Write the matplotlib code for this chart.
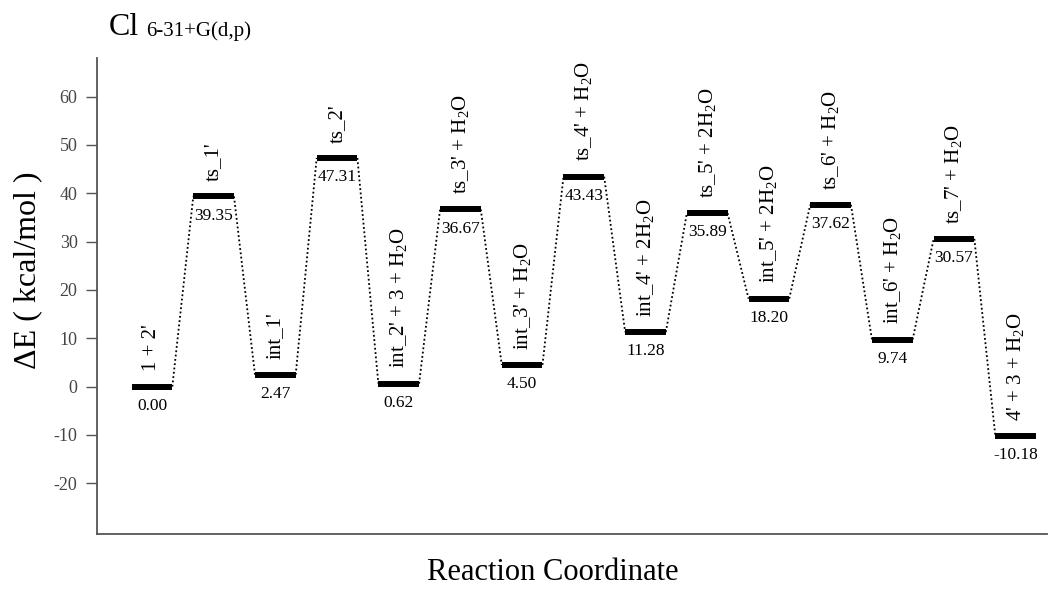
import matplotlib
matplotlib.use("Agg")
import matplotlib.pyplot as plt

# ---- data ----
species = [
    "1 + 2'",
    "ts_1'",
    "int_1'",
    "ts_2'",
    "int_2' + 3 + H$_2$O",
    "ts_3' + H$_2$O",
    "int_3' + H$_2$O",
    "ts_4' + H$_2$O",
    "int_4' + 2H$_2$O",
    "ts_5' + 2H$_2$O",
    "int_5' + 2H$_2$O",
    "ts_6' + H$_2$O",
    "int_6' + H$_2$O",
    "ts_7' + H$_2$O",
    "4' + 3 + H$_2$O",
]
energies = [0.00, 39.35, 2.47, 47.31, 0.62, 36.67, 4.50, 43.43,
            11.28, 35.89, 18.20, 37.62, 9.74, 30.57, -10.18]
yticks = [-20, -10, 0, 10, 20, 30, 40, 50, 60]

# ---- style ----
plt.rcParams['font.family'] = ['Liberation Serif', 'DejaVu Serif']
plt.rcParams['mathtext.fontset'] = 'custom'
plt.rcParams['mathtext.rm'] = 'Liberation Serif'
plt.rcParams['mathtext.it'] = 'Liberation Serif:italic'
plt.rcParams['mathtext.bf'] = 'Liberation Serif:bold'

fig = plt.figure(figsize=(10.48, 5.92), dpi=100)
ax = fig.add_axes([0.0926, 0.098, 0.906, 0.804])

half = 0.33
n = len(energies)
for i, e in enumerate(energies):
    ax.plot([i - half, i + half], [e, e], color='black', lw=4.3,
            solid_capstyle='butt')
    ax.annotate(species[i], (i, e), xytext=(0, 11), textcoords='offset points',
                rotation=90, ha='center', va='bottom', fontsize=15)
    ax.annotate(f"{e:.2f}", (i, e), xytext=(0, -8), textcoords='offset points',
                ha='center', va='top', fontsize=12.5)

for i in range(n - 1):
    ax.plot([i + half, i + 1 - half], [energies[i], energies[i + 1]],
            color='black', lw=1.3, ls=(0, (1, 1.4)))

ax.set_xlim(-0.89, 14.5)
ax.set_ylim(-30.5, 68)
ax.set_yticks(yticks)
ax.set_yticklabels([str(t) for t in yticks])
ax.set_xticks([])
for s in ['top', 'right']:
    ax.spines[s].set_visible(False)
for s in ['left', 'bottom']:
    ax.spines[s].set_color('#555555')
    ax.spines[s].set_linewidth(1.3)
ax.tick_params(axis='y', direction='out', length=8, width=1, color='#555555',
               labelsize=13, labelcolor='#444444', pad=6)

fig.text(28 / 1048, 1 - 270 / 592, "ΔE ( kcal/mol )", rotation=90,
         ha='center', va='center', fontsize=23)
fig.text(553 / 1048, 1 - 573 / 592, "Reaction Coordinate",
         ha='center', va='center', fontsize=22)
fig.text(109 / 1048, 1 - 35 / 592, "Cl", ha='left', va='baseline', fontsize=23)
fig.text(146 / 1048, 1 - 36 / 592, "6-31+G(d,p)", ha='left', va='baseline',
         fontsize=15)

fig.savefig("out.png", dpi=100)
